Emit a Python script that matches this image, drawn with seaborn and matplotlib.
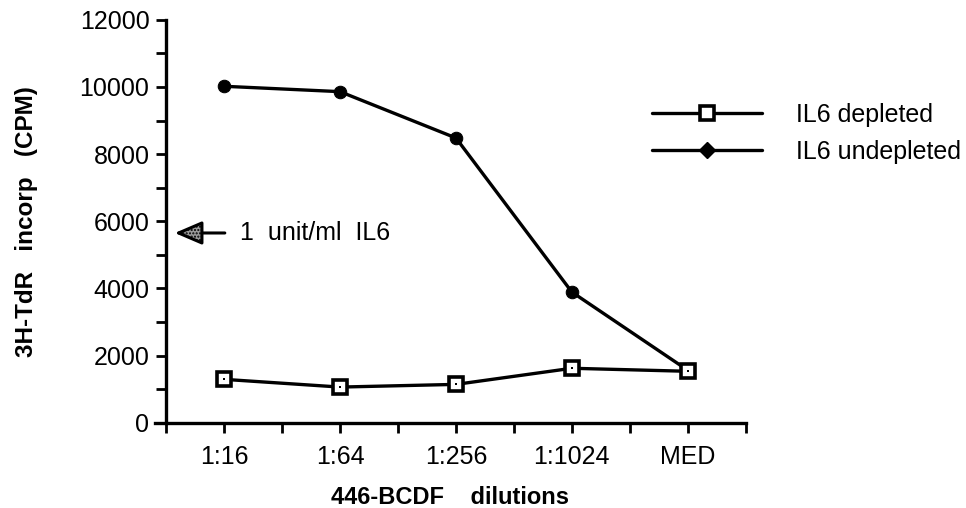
import numpy as np
import pandas as pd
import matplotlib
matplotlib.use("Agg")
import matplotlib.pyplot as plt
from matplotlib.lines import Line2D
from matplotlib.ticker import MultipleLocator, FixedLocator
import seaborn as sns

# Dilution series of the 446-BCDF supernatant
dilutions = ["1:16", "1:64", "1:256", "1:1024", "MED"]
il6_depleted = [1290, 1060, 1140, 1620, 1530]
il6_undepleted = [10020, 9860, 8480, 3890, 1560]
reference_level = 5650          # 1 unit/ml IL6
y_ticks = [0, 2000, 4000, 6000, 8000, 10000, 12000]

pos = np.arange(len(dilutions))
df = pd.DataFrame({
    "pos": np.concatenate([pos, pos]),
    "cpm": il6_depleted + il6_undepleted,
    "series": ["IL6 depleted"] * len(pos) + ["IL6 undepleted"] * len(pos),
})

sns.set_theme(style="white")
plt.rcParams["font.family"] = ["Liberation Sans", "DejaVu Sans"]
plt.rcParams["text.color"] = "black"
plt.rcParams["axes.labelcolor"] = "black"

fig = plt.figure(figsize=(9.66, 5.08), dpi=100)
ax = fig.add_axes([0.160, 0.168, 0.612, 0.793])

dep = df[df.series == "IL6 depleted"]
und = df[df.series == "IL6 undepleted"]

LW = 2.4
sns.lineplot(data=und, x="pos", y="cpm", ax=ax, color="black", lw=LW,
             marker="o", markersize=9, markerfacecolor="black",
             markeredgecolor="black", legend=False)
sns.lineplot(data=dep, x="pos", y="cpm", ax=ax, color="black", lw=LW,
             marker="s", markersize=10, markerfacecolor="white",
             markeredgecolor="black", markeredgewidth=2.6, legend=False)
sns.scatterplot(data=dep, x="pos", y="cpm", ax=ax, color="black", s=4,
                marker="s", linewidth=0, legend=False, zorder=5)

ax.set_xlim(-0.6, 4.5)
ax.set_ylim(0, 12000)
ax.spines["top"].set_visible(False)
ax.spines["right"].set_visible(False)
ax.spines["left"].set_position(("data", -0.5))
for s in ("left", "bottom"):
    ax.spines[s].set_linewidth(2.4)
    ax.spines[s].set_color("black")

ax.set_xticks(pos)
ax.set_xticklabels(dilutions)
ax.xaxis.set_minor_locator(FixedLocator(np.arange(-0.5, 4.6, 1.0)))
ax.set_yticks(y_ticks)
ax.set_yticklabels([str(v) for v in y_ticks])
ax.yaxis.set_minor_locator(MultipleLocator(1000))
ax.tick_params(axis="both", which="both", direction="out", length=7,
               width=2.0, color="black", labelsize=18, labelcolor="black")
ax.tick_params(axis="x", which="major", pad=9)
ax.tick_params(axis="y", which="major", pad=5)
ax.tick_params(left=True, bottom=True, which="both")

ax.set_xlabel("446-BCDF    dilutions", fontsize=17, fontweight="bold",
              labelpad=12, color="black")
ax.set_ylabel("3H-TdR   incorp   (CPM)", fontsize=17.5, fontweight="bold",
              labelpad=30, color="black")

ax.annotate("", xy=(-0.45, reference_level), xytext=(0.03, reference_level),
            arrowprops=dict(arrowstyle="-|>,head_length=1.4,head_width=0.6",
                            fc="#9a9a9a", ec="black", lw=2.2, hatch="....."))
ax.text(0.14, reference_level, "1  unit/ml  IL6", fontsize=18,
        va="center", ha="left", color="black")

handles = [
    Line2D([], [], color="black", lw=LW, marker="s", markersize=10,
           markerfacecolor="white", markeredgecolor="black",
           markeredgewidth=2.6),
    Line2D([], [], color="black", lw=LW, marker="D", markersize=8,
           markerfacecolor="black", markeredgecolor="black"),
]
leg = fig.legend(handles, ["IL6 depleted", "IL6 undepleted"],
                 loc="upper left", bbox_to_anchor=(0.675, 0.797),
                 frameon=False, fontsize=18, handlelength=4.4,
                 handletextpad=1.35, labelspacing=0.5, borderpad=0,
                 borderaxespad=0, numpoints=1)
for t in leg.get_texts():
    t.set_color("black")

fig.savefig("out.png", dpi=100)
